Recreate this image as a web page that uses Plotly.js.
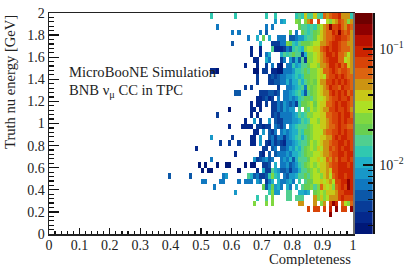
<!DOCTYPE html>
<html><head><meta charset="utf-8">
<script src="https://cdn.plot.ly/plotly-3.0.1.min.js"></script>
<style>html,body{margin:0;padding:0;background:#fff}</style></head>
<body><div id="c" style="width:415px;height:266px"></div>
<script>
// Value of each colour band of the bar, bottom to top.
const bandValues = [0.00284,0.00353,0.00440,0.00548,0.00682,0.00850,0.01059,0.01318,0.01642,0.02044,
  0.0254,0.0317,0.0394,0.0491,0.0611,0.0762,0.0948,0.118,0.147,0.183];
// Value of each colour code used in the cell tables below. 0 = empty bin.
const levelValues = [null,0.00284,0.00353,0.00440,0.00548,0.00682,0.00682,0.00850,0.01059,0.01318,0.01642,
  0.02044,0.0254,0.0317,0.0394,0.0491,0.0611,0.0762,0.0948,0.147,0.183];
const levelColors = ['#001878','#04288c','#083c98','#0c58a8','#1078c0','#1898c8','#20b0c8','#30c8b0','#50cf90','#68cf50',
  '#80d840','#aee024','#c8c818','#cc9412','#dc6410','#d84408','#cc2400','#b81000','#8e0000','#6e0000'];
const bandEdges = [0.00254,0.00316,0.00394,0.00490,0.00610,0.00760,0.00946,0.01178,0.01467,0.01826,0.02274,
  0.02831,0.03525,0.04389,0.05465,0.06805,0.08472,0.10548,0.13134,0.16353,0.204];
const colorbarMinor = [0.003,0.004,0.005,0.006,0.007,0.008,0.009,0.02,0.03,0.04,0.05,0.06,0.07,0.08,0.09,0.2];
// Rows run from the top energy bin (1.95-2.0 GeV) downwards.
// sparse cells left of column 75: column, code, column, code ...
const leftCells = [
[53,9,61,9,71,9,74,9],
[74,7],
[55,6,71,5,73,6],
[60,5,62,5,69,5,71,4],
[65,6,68,8,70,11,72,8],
[60,4,69,8,73,3,74,3],
[66,2,69,2,73,10,74,2],
[66,2,69,2,71,5,72,8],
[67,2,68,2,71,8,72,5],
[64,2,68,2,71,3,73,5],
[53,2,54,2,55,1,67,1,68,1,70,3,71,3,73,2,74,2],
[68,3,72,3,73,4,74,3],
[68,3,72,3,73,3,74,4],
[64,3,66,3],
[61,4,62,4,69,3,70,3,71,3,72,4,73,4,74,3],
[68,2,69,2,70,3,71,4,72,2,73,3],
[66,2,68,2,69,2,71,3,73,3,74,3],
[59,1,66,2,67,2,69,2,73,3,74,3],
[55,3,66,2,68,2,73,3,74,4],
[64,2,67,7,69,3,72,7,74,4],
[59,2,63,2,64,2,65,2,66,2,68,3,69,3,70,2,71,3,72,3,74,5],
[67,2,68,2,70,7,72,4,73,3,74,5],
[53,7,60,3,66,2,67,2,69,7,72,4,73,5,74,3],
[56,3,59,3,62,3,66,2,67,2,69,7,71,3,72,2,73,5,74,3],
[48,2,70,3,71,3,73,4,74,5],
[61,2,69,3,70,2,72,4,74,4],
[53,6,67,7,68,3,69,4,70,6,71,7,72,4,73,5],
[49,1,51,1,55,1,58,1,59,1,64,1,66,1,67,1,70,3,71,3,72,4,74,8],
[50,1,52,1,53,1,62,1,68,2,70,8,71,3,72,3,73,10,74,8],
[39,4,46,4,57,5,58,7,65,10,66,8,67,4,68,6,69,3,70,3,71,4,72,9,73,12,74,9],
[50,5,51,5,56,5,57,5,62,5,64,5,65,5,66,5,68,7,69,5,71,3,72,5,73,8],
[54,6,70,11,71,4,72,8,73,11,74,7],
[61,7,72,9,73,12,74,7],
[68,9,71,10,73,12],
[67,12,71,12,73,12],
[],
[],[],[],[]
];
// dense cells, columns 75..99
const rightCells = [
[0,0,0,0,0,0,9,10,9,14,10,10,14,10,9,16,15,16,17,17,18,15,15,15,9],
[0,7,8,0,0,0,12,11,0,12,15,17,0,17,0,0,13,12,14,15,17,16,15,12,15],
[0,0,0,0,0,0,0,11,10,10,9,10,9,12,13,15,16,19,17,17,18,16,15,17,16],
[0,0,0,0,11,0,5,0,11,10,9,10,11,12,14,15,16,16,18,17,19,17,16,17,15],
[5,6,5,0,4,4,6,7,7,9,10,10,11,13,14,15,16,16,17,18,18,17,17,16,15],
[3,5,5,12,11,9,8,10,11,11,11,12,13,13,15,15,16,17,18,18,17,16,16,15,15],
[2,2,3,6,4,9,10,9,8,12,13,13,14,14,16,17,18,17,18,18,17,16,16,16,15],
[0,8,10,9,10,11,10,10,3,8,12,12,13,14,15,16,18,18,17,18,16,16,15,13,15],
[0,3,5,0,7,4,8,4,10,3,12,12,13,14,15,16,17,18,18,18,16,16,13,14,15],
[2,1,0,5,6,9,7,8,10,10,11,13,13,12,15,15,16,18,18,17,18,16,17,14,15],
[1,1,5,6,5,7,9,9,10,11,10,12,12,13,14,16,16,17,18,17,16,17,17,16,15],
[4,5,6,7,7,8,9,8,9,11,11,12,12,13,14,13,16,17,17,18,17,18,17,16,16],
[4,5,6,8,6,8,8,10,8,10,11,12,11,13,15,15,17,17,18,17,18,17,18,17,16],
[3,0,0,6,5,7,8,9,10,5,12,11,12,13,14,15,16,18,17,17,16,18,17,17,16],
[4,0,6,5,7,8,9,10,8,4,10,11,12,13,14,15,15,17,18,17,18,17,18,16,17],
[5,0,6,6,7,5,7,9,10,11,11,10,12,13,13,14,15,16,17,17,18,17,17,18,16],
[5,4,7,6,4,6,3,9,11,11,12,13,11,13,14,14,16,16,17,18,17,18,18,17,16],
[5,4,7,5,7,7,0,10,0,11,10,13,12,13,14,15,15,17,17,18,17,17,18,17,15],
[3,5,5,6,6,7,8,10,9,10,12,12,13,13,14,14,16,16,17,17,18,17,18,18,16],
[3,3,6,5,6,7,7,8,10,9,10,13,13,12,14,14,15,16,17,17,18,17,18,17,17],
[4,3,5,0,7,8,9,10,10,10,11,12,13,13,14,14,15,16,16,17,18,17,17,16,16],
[0,5,7,6,7,8,8,10,9,11,11,12,13,13,13,15,16,16,17,17,18,17,18,17,17],
[5,6,3,5,7,8,9,10,8,10,11,12,13,13,14,14,15,15,17,18,17,18,18,17,17],
[4,3,2,5,6,7,8,9,10,10,11,13,12,13,14,15,15,16,17,17,18,18,17,18,17],
[0,4,4,6,8,7,9,8,10,11,12,13,12,14,13,15,15,17,16,17,18,17,18,18,17],
[5,6,5,7,6,8,8,9,10,11,12,12,13,13,14,15,15,16,17,17,18,18,17,18,18],
[0,5,7,6,8,4,8,10,10,10,11,13,13,14,13,14,16,15,17,16,18,17,17,18,17],
[0,5,6,7,4,5,7,9,10,11,12,13,12,13,14,14,15,16,17,17,18,18,18,17,18],
[7,4,4,5,3,6,5,8,10,10,11,12,13,12,14,14,15,14,17,17,18,18,18,18,18],
[8,0,5,4,7,7,8,10,10,11,10,12,13,13,12,14,15,13,16,17,18,18,17,18,18],
[8,6,5,7,8,5,0,9,0,10,11,11,13,13,14,13,14,15,13,17,17,18,18,19,18],
[8,6,0,8,6,0,8,0,10,11,11,12,10,12,16,14,13,14,12,16,17,18,17,19,18],
[7,0,0,10,10,0,0,8,8,7,8,0,11,12,13,12,14,14,14,15,17,17,18,18,18],
[0,0,0,10,10,0,10,10,10,0,0,0,15,12,14,12,13,15,15,15,17,18,17,17,17],
[0,0,0,0,0,0,0,15,15,0,0,0,15,0,12,15,0,17,19,18,0,16,13,12,16],
[0,0,0,0,0,0,0,0,0,0,17,0,17,17,0,17,0,18,0,19,0,17,17,0,19],
[0,0,0,0,0,0,0,0,0,0,0,0,0,0,0,0,0,19,0,0,0,0,0,0,0],
[0,0,0,0,0,0,0,0,0,0,0,0,0,0,0,0,0,0,0,0,0,0,0,0,0],
[0,0,0,0,0,0,0,0,0,0,0,0,0,0,0,0,0,0,0,0,0,0,0,0,0],
[0,0,0,0,0,0,0,0,0,0,0,0,0,0,0,0,0,0,0,0,0,0,0,0,0]
];
const xTitle = 'Completeness';
const yTitle = 'Truth nu energy [GeV]';
const label1 = 'MicroBooNE Simulation';
const label2 = 'BNB ν<sub>μ</sub> CC in TPC';

const zMin = Math.log10(bandEdges[0]), zMax = Math.log10(bandEdges[20]);
const z = rightCells.map((r, i) => {
  const row = new Array(100).fill(null);
  const l = leftCells[i];
  for (let k = 0; k < l.length; k += 2) row[l[k]] = Math.log10(levelValues[l[k + 1]]);
  r.forEach((v, k) => { if (v) row[75 + k] = Math.log10(levelValues[v]); });
  return row;
}).reverse();
const scale = [];
levelColors.forEach((c, i) => { scale.push([i / 20, c]); scale.push([(i + 1) / 20, c]); });
const font = {family: '"Liberation Serif", serif', size: 14, color: '#222'};
const titleFont = {family: '"Liberation Serif", serif', size: 14.6, color: '#222'};
const dom = {x: [49 / 415, 353 / 415], y: [32 / 266, 253 / 266]};

Plotly.newPlot('c', [
  {type: 'heatmap', z, x0: 0.005, dx: 0.01, y0: 0.025, dy: 0.05, zmin: zMin, zmax: zMax,
   colorscale: scale, showscale: false, hoverongaps: false, zsmooth: false, xgap: 0, ygap: 0},
  {type: 'heatmap', xaxis: 'x2', yaxis: 'y2', x: [0, 1], y: bandEdges,
   z: bandValues.map(v => [Math.log10(v)]), zmin: zMin, zmax: zMax,
   colorscale: scale, showscale: false, zsmooth: false}
], {
  width: 415, height: 266, margin: {l: 0, r: 0, t: 0, b: 0},
  paper_bgcolor: '#fff', plot_bgcolor: '#fff', showlegend: false,
  xaxis: {domain: dom.x, range: [0, 1], dtick: 0.1, tick0: 0, ticks: 'inside', ticklen: 6, tickwidth: 1.3, tickcolor: '#111',
    showgrid: false, zeroline: false, showline: true, mirror: true, linecolor: '#222', linewidth: 1.5, layer: 'below traces',
    tickfont: font, anchor: 'y', ticklabelstandoff: -2,
    minor: {dtick: 0.02, ticks: 'inside', ticklen: 3, tickwidth: 1.2, tickcolor: '#111', showgrid: false}},
  yaxis: {domain: dom.y, range: [0, 2], dtick: 0.2, tick0: 0, ticks: 'inside', ticklen: 10, tickwidth: 1.3, tickcolor: '#111',
    showgrid: false, zeroline: false, showline: true, mirror: true, linecolor: '#222', linewidth: 1.5, layer: 'below traces',
    tickfont: font, anchor: 'x',
    minor: {dtick: 0.04, ticks: 'inside', ticklen: 5, tickwidth: 1.2, tickcolor: '#111', showgrid: false}},
  xaxis2: {domain: [354.7 / 415, 373 / 415], range: [0, 1], anchor: 'y2', showticklabels: false, ticks: '', showgrid: false, zeroline: false, showline: false},
  yaxis2: {domain: dom.y, type: 'log', range: [Math.log10(bandEdges[0]), Math.log10(bandEdges[20])], anchor: 'x2', side: 'right',
    tickmode: 'array', tickvals: [0.01, 0.1], ticktext: ['10<sup>−2</sup>', '10<sup>−1</sup>'],
    ticks: 'inside', ticklen: 10, tickwidth: 1.3, tickcolor: '#111', tickfont: font, ticklabelstandoff: 2,
    showgrid: false, zeroline: false, showline: true, linecolor: '#111', linewidth: 1.5,
    minor: {tickmode: 'array', tickvals: colorbarMinor, ticks: 'inside', ticklen: 5, tickwidth: 1.2, tickcolor: '#111', showgrid: false}},
  shapes: [{type: 'line', xref: 'paper', yref: 'paper', x0: 354 / 415, x1: 354 / 415, y0: dom.y[0], y1: dom.y[1], line: {color: '#bbb', width: 1}}],
  annotations: [
    {xref: 'x', yref: 'y', x: 0.06, y: 1.466, text: label1, showarrow: false, xanchor: 'left', yanchor: 'middle', font: titleFont},
    {xref: 'x', yref: 'y', x: 0.06, y: 1.29, text: label2, showarrow: false, xanchor: 'left', yanchor: 'middle', font: titleFont},
    {xref: 'x', yref: 'paper', x: 1, y: 7.5 / 266, text: xTitle, showarrow: false, xanchor: 'right', yanchor: 'middle', font: titleFont},
    {xref: 'paper', yref: 'paper', x: 10 / 415, y: 253 / 266, text: yTitle, textangle: -90, showarrow: false, xanchor: 'center', yanchor: 'top', font: titleFont}
  ]
}, {staticPlot: true, displayModeBar: false});
</script></body></html>
